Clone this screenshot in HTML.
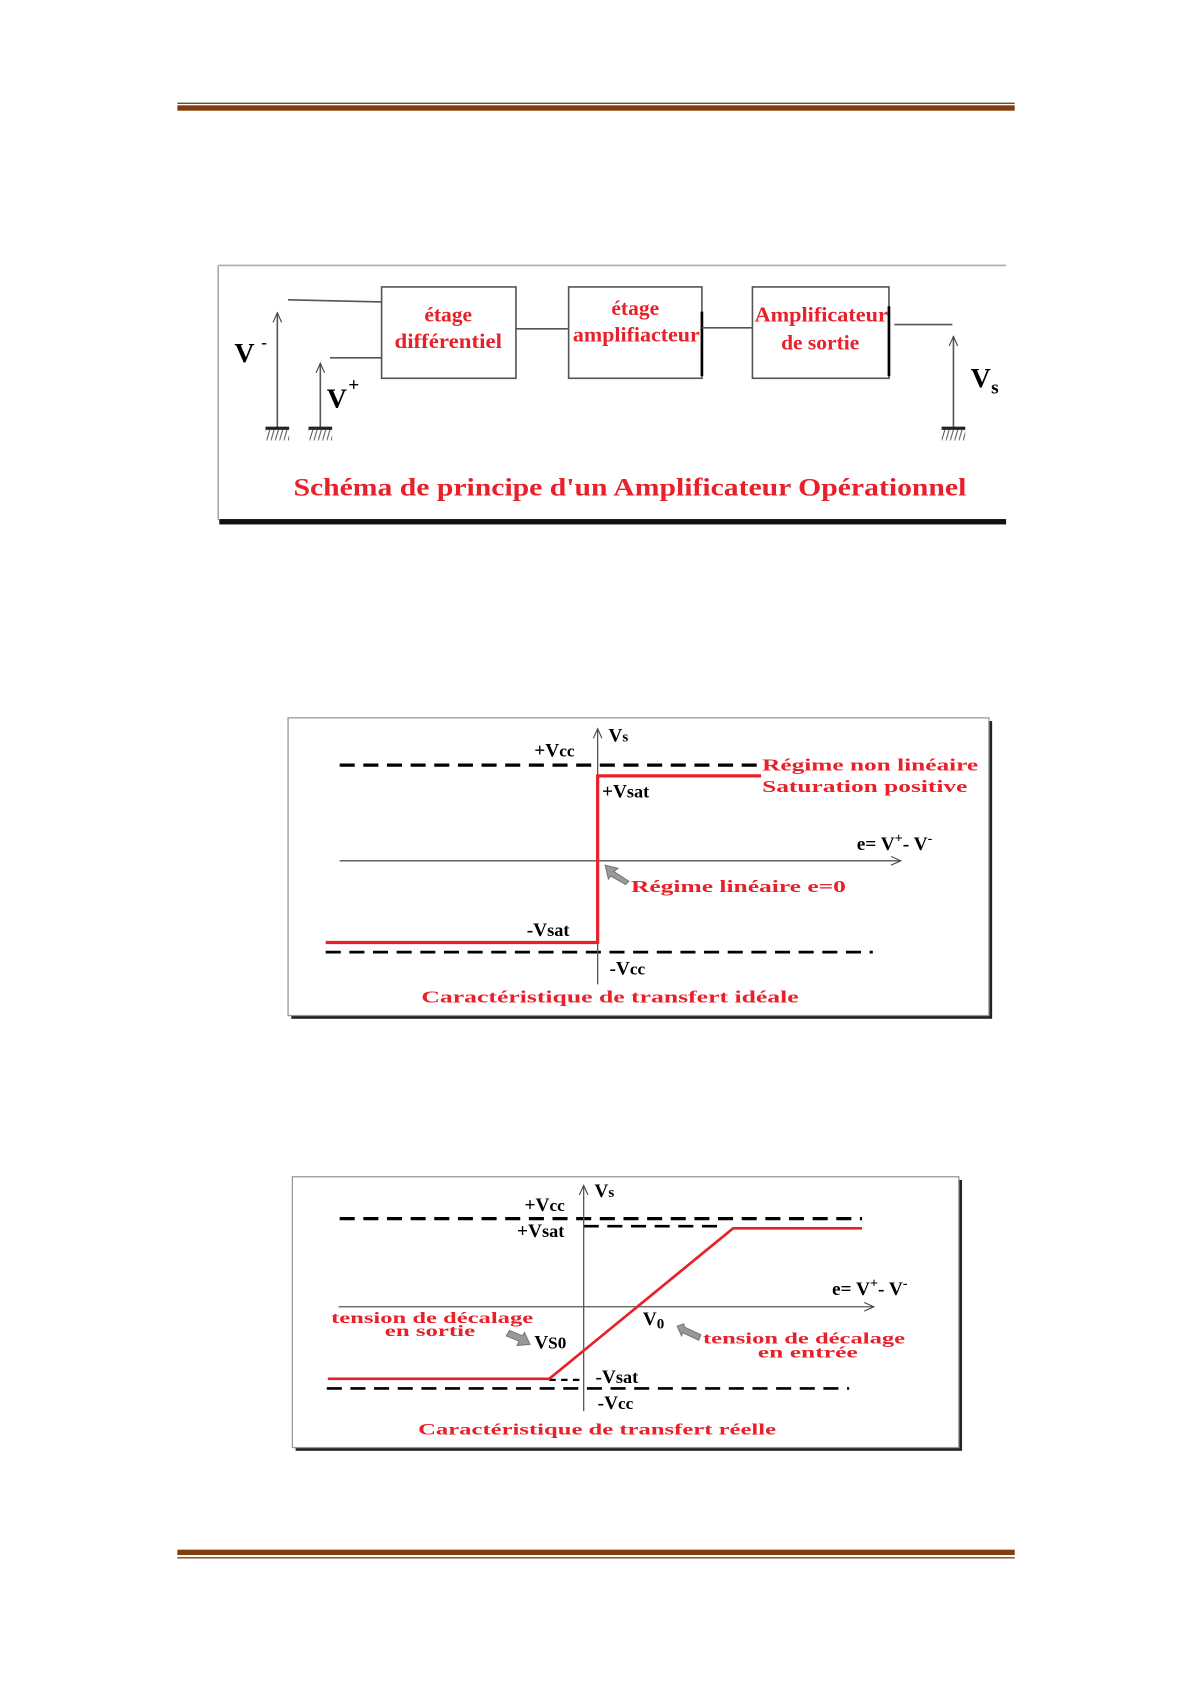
<!DOCTYPE html>
<html><head><meta charset="utf-8"><style>html,body{margin:0;padding:0;background:#fff}svg{display:block}</style></head>
<body>
<svg width="1191" height="1684" viewBox="0 0 1108 1567" preserveAspectRatio="none" xmlns="http://www.w3.org/2000/svg" font-family="Liberation Serif, serif" font-weight="bold">
<defs>
<marker id="ar" markerWidth="10" markerHeight="10" refX="9" refY="5" orient="auto" markerUnits="userSpaceOnUse"><path d="M0,1 L9,5 L0,9" fill="none" stroke="#444" stroke-width="1"/></marker>
<pattern id="h" width="4" height="10" patternUnits="userSpaceOnUse"><line x1="3" y1="0" x2="0" y2="10" stroke="#555" stroke-width="1"/></pattern>
</defs>
<rect x="165" y="95.5" width="779" height="1.2" fill="#6b3a12"/>
<rect x="165" y="98" width="779" height="5" fill="#843c0c"/>
<rect x="165" y="1442" width="779" height="5" fill="#843c0c"/>
<rect x="165" y="1449" width="779" height="1.2" fill="#6b3a12"/>

<line x1="203" y1="247" x2="936" y2="247" stroke="#aaa" stroke-width="1.5"/>
<line x1="203" y1="247" x2="203" y2="484" stroke="#aaa" stroke-width="1.5"/>
<rect x="204" y="483" width="732" height="5" fill="#111"/>
<g fill="#fff" stroke="#555" stroke-width="1.5">
<rect x="355" y="267" width="125" height="85"/>
<rect x="529" y="267" width="124" height="85"/>
<rect x="700" y="267" width="127" height="85"/>
</g>
<line x1="653" y1="290" x2="653" y2="350" stroke="#000" stroke-width="2.5"/>
<line x1="827" y1="285" x2="827" y2="350" stroke="#000" stroke-width="2.5"/>
<g stroke="#555" stroke-width="1.5">
<line x1="268" y1="279" x2="355" y2="281"/>
<line x1="307" y1="333" x2="355" y2="333"/>
<line x1="480" y1="306" x2="529" y2="306"/>
<line x1="653" y1="305" x2="700" y2="305"/>
<line x1="832" y1="302" x2="886" y2="302"/>
<line x1="258" y1="398" x2="258" y2="291" marker-end="url(#ar)"/>
<line x1="298" y1="398" x2="298" y2="338" marker-end="url(#ar)"/>
<line x1="887" y1="398" x2="887" y2="313" marker-end="url(#ar)"/>
</g>
<g fill="#222"><rect x="247" y="397" width="22" height="3"/><rect x="287" y="397" width="22" height="3"/><rect x="876" y="397" width="22" height="3"/></g>
<rect x="247" y="400" width="22" height="10" fill="url(#h)"/><rect x="287" y="400" width="22" height="10" fill="url(#h)"/><rect x="876" y="400" width="22" height="10" fill="url(#h)"/>
<g fill="#000" font-size="26">
<text x="218" y="337">V</text><text x="243" y="324" font-size="16">-</text>
<text x="304" y="379">V</text><text x="324" y="364" font-size="18">+</text>
<text x="903" y="360">V</text><text x="922" y="366" font-size="18">s</text>
</g>
<g fill="#e8202a" font-size="20" text-anchor="middle">
<text x="417" y="299">étage</text><text x="417" y="324" textLength="100" lengthAdjust="spacingAndGlyphs">différentiel</text>
<text x="591" y="293">étage</text><text x="592" y="318" textLength="118" lengthAdjust="spacingAndGlyphs">amplifiacteur</text>
<text x="764" y="299" textLength="124" lengthAdjust="spacingAndGlyphs">Amplificateur</text><text x="763" y="325">de sortie</text>
</g>
<text x="273" y="461" fill="#e8202a" font-size="24" textLength="626" lengthAdjust="spacingAndGlyphs">Schéma de principe d'un Amplificateur Opérationnel</text>

<rect x="271" y="671" width="652" height="277" fill="#222"/>
<rect x="268" y="668" width="652" height="277" fill="#fff" stroke="#999" stroke-width="1.2"/>
<g stroke="#000" stroke-width="3" stroke-dasharray="14,8">
<line x1="316" y1="712" x2="708" y2="712"/>
<line x1="303" y1="886" x2="812" y2="886" stroke-width="2.5"/>
</g>
<g stroke="#555" stroke-width="1.2">
<line x1="556" y1="916" x2="556" y2="678" marker-end="url(#ar)"/>
<line x1="316" y1="801" x2="838" y2="801" marker-end="url(#ar)"/>
</g>
<polyline points="303,877 556,877 556,722 708,722" fill="none" stroke="#e8202a" stroke-width="3"/>
<path d="M563,805 L575,808 L571,811 L585,820 L582,823 L568,815 L566,818 Z" fill="#999" stroke="#777"/>
<g fill="#000" font-size="18">
<text x="566" y="690">V<tspan font-size="14">s</tspan></text>
<text x="497" y="704">+V<tspan font-size="16">cc</tspan></text>
<text x="560" y="742">+V<tspan font-size="17">sat</tspan></text>
<text x="490" y="871">-V<tspan font-size="17">sat</tspan></text>
<text x="567" y="907">-V<tspan font-size="16">cc</tspan></text>
<text x="797" y="791">e= V<tspan font-size="13" dy="-7">+</tspan><tspan dy="7">- V</tspan><tspan font-size="13" dy="-7">-</tspan></text>
</g>
<g fill="#e8202a" font-size="16">
<text x="709" y="717" textLength="201" lengthAdjust="spacingAndGlyphs">Régime non linéaire</text>
<text x="709" y="737" textLength="191" lengthAdjust="spacingAndGlyphs">Saturation positive</text>
<text x="587" y="830" textLength="200" lengthAdjust="spacingAndGlyphs">Régime linéaire e=0</text>
<text x="392" y="933" textLength="351" lengthAdjust="spacingAndGlyphs">Caractéristique de transfert idéale</text>
</g>

<rect x="275" y="1098" width="620" height="252" fill="#222"/>
<rect x="272" y="1095" width="620" height="252" fill="#fff" stroke="#999" stroke-width="1.2"/>
<g stroke="#000" stroke-width="3" stroke-dasharray="14,8">
<line x1="316" y1="1134" x2="802" y2="1134"/>
<line x1="543" y1="1141" x2="668" y2="1141" stroke-width="2.5"/>
<line x1="304" y1="1292" x2="790" y2="1292" stroke-width="2.5"/>
<line x1="511" y1="1284" x2="543" y2="1284" stroke-width="2" stroke-dasharray="6,5"/>
</g>
<g stroke="#555" stroke-width="1.2">
<line x1="543" y1="1313" x2="543" y2="1103" marker-end="url(#ar)"/>
<line x1="315" y1="1216" x2="813" y2="1216" marker-end="url(#ar)"/>
</g>
<polyline points="305,1283 511,1283 682,1143 802,1143" fill="none" stroke="#e8202a" stroke-width="2.5"/>
<path d="M474,1238 L486,1243 L488,1240 L493,1251 L481,1252 L483,1248 L471,1243 Z" fill="#999" stroke="#777"/>
<path d="M630,1234 L636,1232 L637,1235 L652,1242 L650,1247 L635,1240 L634,1243 Z" fill="#999" stroke="#777"/>
<g fill="#000" font-size="18">
<text x="553" y="1114">V<tspan font-size="14">s</tspan></text>
<text x="488" y="1127">+V<tspan font-size="16">cc</tspan></text>
<text x="481" y="1151">+V<tspan font-size="17">sat</tspan></text>
<text x="598" y="1233">V<tspan font-size="14" dy="3">0</tspan></text>
<text x="497" y="1255">V<tspan font-size="16">S0</tspan></text>
<text x="554" y="1287">-V<tspan font-size="17">sat</tspan></text>
<text x="556" y="1311">-V<tspan font-size="16">cc</tspan></text>
<text x="774" y="1205">e= V<tspan font-size="13" dy="-7">+</tspan><tspan dy="7">- V</tspan><tspan font-size="13" dy="-7">-</tspan></text>
</g>
<g fill="#e8202a" font-size="15">
<text x="308" y="1231" textLength="188" lengthAdjust="spacingAndGlyphs">tension de décalage</text>
<text x="358" y="1243" textLength="84" lengthAdjust="spacingAndGlyphs">en sortie</text>
<text x="654" y="1250" textLength="188" lengthAdjust="spacingAndGlyphs">tension de décalage</text>
<text x="705" y="1263" textLength="93" lengthAdjust="spacingAndGlyphs">en entrée</text>
<text x="389" y="1335" textLength="333" lengthAdjust="spacingAndGlyphs">Caractéristique de transfert réelle</text>
</g>
</svg>
</body></html>
